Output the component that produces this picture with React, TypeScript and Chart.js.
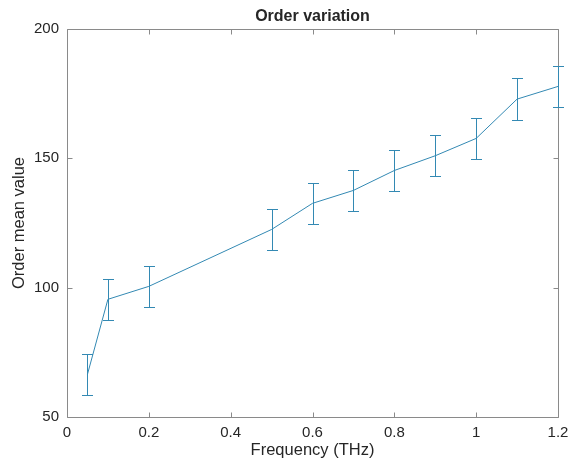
import React, { useEffect, useRef } from "react";
import { Chart, registerables } from "chart.js";

Chart.register(...registerables);

const frequencies = [0.05, 0.1, 0.2, 0.5, 0.6, 0.7, 0.8, 0.9, 1.0, 1.1, 1.2];
const meanValues = [66.5, 95.5, 100.5, 122.5, 132.6, 137.6, 145.3, 151.0, 157.7, 172.9, 177.8];
const errorValues = [8, 8, 8, 8, 8, 8, 8, 8, 8, 8, 8];
const xTicks = [0, 0.2, 0.4, 0.6, 0.8, 1, 1.2];
const yTicks = [50, 100, 150, 200];

const LINE = "#3389b3";
const AXIS = "#8a8a8a";
const TEXT = "#262626";
const FONT = "'Liberation Sans', Arial, Helvetica, sans-serif";

const errorBarPlugin = {
  id: "errorBars",
  afterDatasetsDraw(chart: any) {
    const { ctx, scales } = chart;
    const xs = scales.x;
    const ys = scales.y;
    ctx.save();
    ctx.strokeStyle = LINE;
    ctx.lineWidth = 1;
    for (let i = 0; i < frequencies.length; i++) {
      const x = Math.round(xs.getPixelForValue(frequencies[i])) + 0.5;
      const yt = Math.round(ys.getPixelForValue(meanValues[i] + errorValues[i])) + 0.5;
      const yb = Math.round(ys.getPixelForValue(meanValues[i] - errorValues[i])) + 0.5;
      ctx.beginPath();
      ctx.moveTo(x, yt);
      ctx.lineTo(x, yb);
      ctx.moveTo(x - 5.5, yt);
      ctx.lineTo(x + 5.5, yt);
      ctx.moveTo(x - 5.5, yb);
      ctx.lineTo(x + 5.5, yb);
      ctx.stroke();
    }
    ctx.restore();
  },
};

const boxPlugin = {
  id: "matlabBox",
  beforeDatasetsDraw(chart: any) {
    const { ctx, chartArea, scales } = chart;
    const { left, right, top, bottom } = chartArea;
    ctx.save();
    ctx.strokeStyle = AXIS;
    ctx.lineWidth = 1;
    const L = Math.round(left) + 0.5;
    const R = Math.round(right) + 0.5;
    const T = Math.round(top) + 0.5;
    const B = Math.round(bottom) + 0.5;
    ctx.beginPath();
    ctx.rect(L, T, R - L, B - T);
    ctx.stroke();
    const tl = 5;
    ctx.beginPath();
    for (const v of xTicks) {
      const x = Math.round(scales.x.getPixelForValue(v)) + 0.5;
      ctx.moveTo(x, B);
      ctx.lineTo(x, B - tl);
      ctx.moveTo(x, T);
      ctx.lineTo(x, T + tl);
    }
    for (const v of yTicks) {
      const y = Math.round(scales.y.getPixelForValue(v)) + 0.5;
      ctx.moveTo(L, y);
      ctx.lineTo(L + tl, y);
      ctx.moveTo(R, y);
      ctx.lineTo(R - tl, y);
    }
    ctx.stroke();
    ctx.restore();
  },
};

export default function App() {
  const canvasRef = useRef<HTMLCanvasElement | null>(null);

  useEffect(() => {
    document.body.style.margin = "0";
    const canvas = canvasRef.current;
    if (!canvas) return;
    const chart = new Chart(canvas, {
      type: "line",
      data: {
        datasets: [
          {
            label: "Order mean value",
            data: frequencies.map((f, i) => ({ x: f, y: meanValues[i] })),
            borderColor: LINE,
            backgroundColor: LINE,
            borderWidth: 1,
            pointRadius: 0,
            tension: 0,
            fill: false,
            clip: false,
          },
        ],
      },
      options: {
        animation: false,
        responsive: false,
        maintainAspectRatio: false,
        layout: { padding: { left: 0, right: 12, top: 0, bottom: 0 } },
        plugins: {
          legend: { display: false },
          tooltip: { enabled: false },
          title: {
            display: true,
            text: "Order variation",
            color: TEXT,
            fullSize: false,
            font: { family: FONT, size: 16, weight: "bold", lineHeight: 1.2 },
            padding: { top: 7.4, bottom: 2.4 },
          },
        },
        scales: {
          x: {
            type: "linear",
            min: 0,
            max: 1.2,
            grid: { display: false, drawTicks: false },
            border: { display: false },
            afterBuildTicks: (scale: any) => {
              scale.ticks = xTicks.map((v) => ({ value: v }));
            },
            afterFit: (scale: any) => {
              scale.height = 51;
              scale.paddingLeft = 0;
              scale.paddingRight = 0;
            },
            ticks: {
              color: TEXT,
              padding: 7,
              maxRotation: 0,
              autoSkip: false,
              font: { family: FONT, size: 15, lineHeight: 1.2 },
              callback: (v: any) => String(Number(v)),
            },
            title: {
              display: true,
              text: "Frequency (THz)",
              color: TEXT,
              font: { family: FONT, size: 16.5, lineHeight: 1.2 },
              padding: { top: 0, bottom: 8 },
            },
          },
          y: {
            type: "linear",
            min: 50,
            max: 200,
            grid: { display: false, drawTicks: false },
            border: { display: false },
            afterBuildTicks: (scale: any) => {
              scale.ticks = yTicks.map((v) => ({ value: v }));
            },
            afterFit: (scale: any) => {
              scale.width = 67;
              scale.paddingTop = 0;
              scale.paddingBottom = 0;
            },
            ticks: {
              color: TEXT,
              padding: 8,
              autoSkip: false,
              font: { family: FONT, size: 15, lineHeight: 1.2 },
            },
            title: {
              display: true,
              text: "Order mean value",
              color: TEXT,
              font: { family: FONT, size: 16.5, lineHeight: 1.2 },
              padding: { top: 10, bottom: 0 },
            },
          },
        },
      },
      plugins: [errorBarPlugin, boxPlugin],
    } as any);
    return () => chart.destroy();
  }, []);

  return (
    <div style={{ position: "absolute", left: 0, top: 0, width: 570, height: 468, background: "#fff" }}>
      <canvas ref={canvasRef} width={570} height={468} style={{ width: 570, height: 468, display: "block" }} />
    </div>
  );
}
